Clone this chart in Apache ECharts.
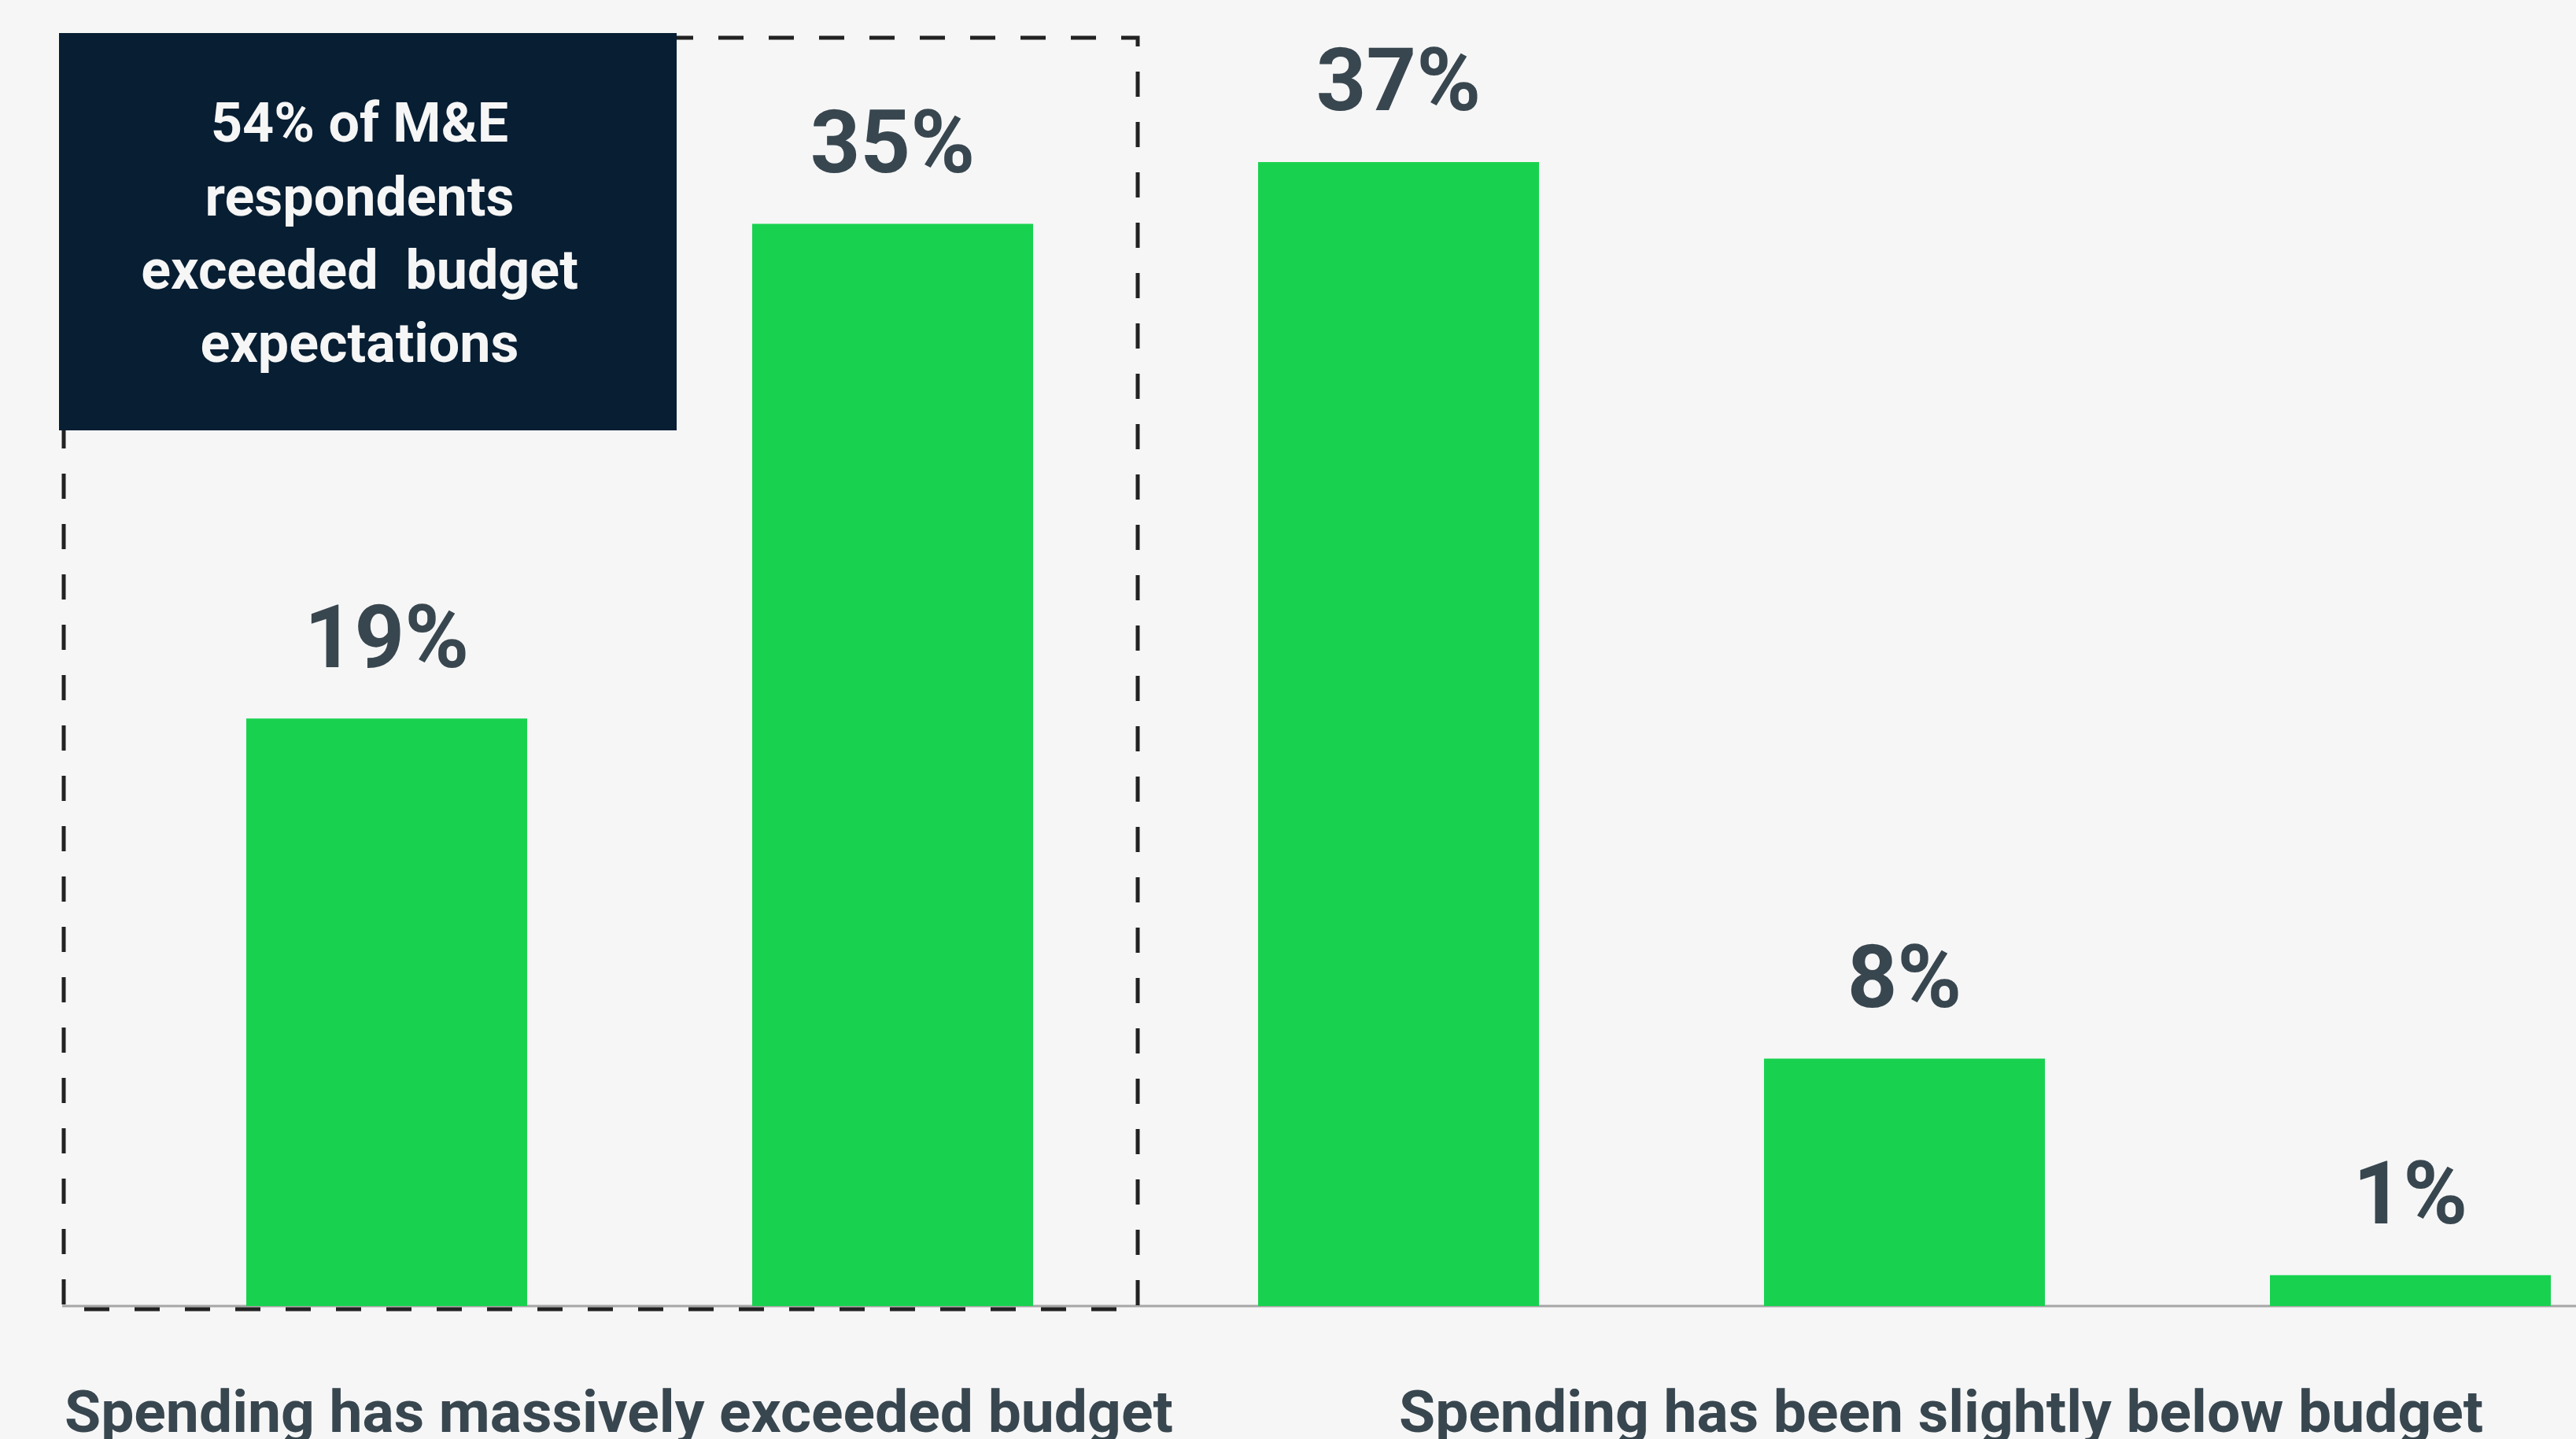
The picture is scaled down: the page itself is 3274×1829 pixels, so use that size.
<!DOCTYPE html>
<html><head><meta charset="utf-8">
<script src="https://cdn.jsdelivr.net/npm/echarts@6/dist/echarts.min.js"></script>
<style>html,body{margin:0;padding:0;background:#f6f6f6;}#c{width:3274px;height:1829px;}</style>
</head><body><div id="c"></div>
<script>
const categories = [
  "Spending has massively exceeded budget",
  "",
  "",
  "Spending has been slightly below budget",
  ""
];
const values = [19, 35, 37, 8, 1];
const valueLabels = ["19%", "35%", "37%", "8%", "1%"];
const calloutLines = ["54% of M&E", "respondents", "exceeded  budget", "expectations"];
const shownAxisLabels = [0, 3];

const TEXT = '#38464f';
const chart = echarts.init(document.getElementById('c'), null, {renderer: 'canvas'});
chart.setOption({
  backgroundColor: '#f6f6f6',
  animation: false,
  grid: {left: 170, width: 3215, top: 88, bottom: 169, containLabel: false, outerBoundsMode: 'none'},
  xAxis: {type: 'category', data: categories, axisLine: {show: false}, axisTick: {show: false}, axisLabel: {show: false}, splitLine: {show: false}},
  yAxis: {type: 'value', min: 0, max: 40, show: false, splitLine: {show: false}},
  series: [{
    type: 'bar', data: values, barWidth: 357, z: 2,
    itemStyle: {color: '#18d24f'},
    label: {
      show: true, position: 'top', distance: 38,
      formatter: p => valueLabels[p.dataIndex],
      fontFamily: 'Roboto', fontWeight: 700, fontSize: 111, lineHeight: 111, color: TEXT
    }
  }]
});

const y0 = chart.convertToPixel({gridIndex: 0}, [0, 0])[1];
const graphics = [
  {type: 'line', z: 0, shape: {x1: 79, y1: y0, x2: 3274, y2: y0}, style: {stroke: '#a6a6a6', lineWidth: 3}},
  {type: 'rect', z: 10, shape: {x: 81, y: 48, width: 1365, height: 1616}, style: {fill: null, stroke: '#222222', lineWidth: 5, lineDash: [32, 32]}},
  {type: 'rect', z: 11, shape: {x: 75, y: 42, width: 785, height: 505}, style: {fill: '#071e33'}},
  {type: 'text', z: 12, style: {text: calloutLines.join('\n'), x: 457, y: 116, align: 'center', verticalAlign: 'top',
    fontFamily: 'Roboto', fontWeight: 700, fontSize: 70, lineHeight: 93.4, fill: '#f6f6f6'}}
];
const labelX = [82, 1778];
shownAxisLabels.forEach((idx, i) => {
  graphics.push({type: 'text', z: 12, style: {text: categories[idx], x: labelX[i], y: 1801, align: 'left', verticalAlign: 'middle',
    fontFamily: 'Roboto', fontWeight: 700, fontSize: 75, fill: TEXT}});
});
chart.setOption({graphic: graphics});
</script></body></html>
